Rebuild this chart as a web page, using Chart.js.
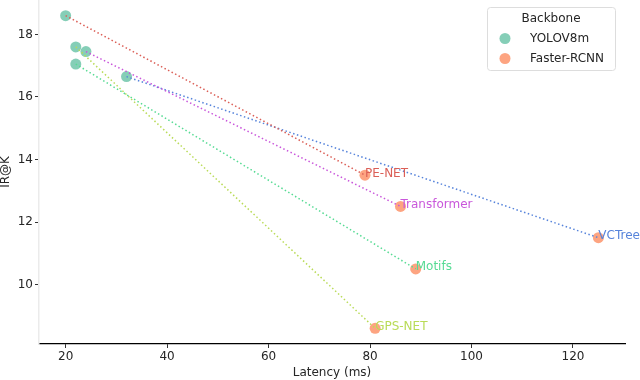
<!DOCTYPE html>
<html>
<head>
<meta charset="utf-8">
<script src="https://cdn.jsdelivr.net/npm/chart.js@4/dist/chart.umd.min.js"></script>
<style>
  html, body { margin: 0; padding: 0; background: #fff; }
  #wrap { width: 640px; height: 380px; }
</style>
</head>
<body>
<div id="wrap"><canvas id="chart" width="640" height="380"></canvas></div>
<script>
// Models compared, one line per model from the YOLOv8m run to the Faster-RCNN run
var models = ['PE-NET', 'Transformer', 'VCTree', 'Motifs', 'GPS-NET'];
var modelColors = ['#db5f57', '#c957db', '#5784db', '#57db94', '#b9db57'];

// YOLOv8m backbone
var yoloLatency = [20, 24, 32, 22, 22];
var yoloScore = [18.6, 17.45, 16.65, 17.05, 17.6];

// Faster-RCNN backbone
var rcnnLatency = [79, 86, 125, 89, 81];
var rcnnScore = [13.5, 12.5, 11.5, 10.5, 8.6];

var backbones = ['YOLOV8m', 'Faster-RCNN'];
var backboneColors = ['rgba(102,194,165,0.8)', 'rgba(252,141,98,0.8)'];

var xTicks = [20, 40, 60, 80, 100, 120];
var yTicks = [10, 12, 14, 16, 18];

var FONT = 'DejaVu Sans, sans-serif';
var TEXT = '#262626';

function toPoints(xs, ys) {
  return xs.map(function(x, i) { return { x: x, y: ys[i] }; });
}

var datasets = [];

// dotted connector lines (drawn on top of the markers)
models.forEach(function(name, i) {
  datasets.push({
    type: 'line',
    label: name,
    data: [{ x: yoloLatency[i], y: yoloScore[i] }, { x: rcnnLatency[i], y: rcnnScore[i] }],
    borderColor: modelColors[i],
    borderWidth: 1.5,
    borderDash: [1.5, 2.5],
    pointRadius: 0,
    fill: false,
    clip: false,
    order: 0
  });
});

datasets.push({
  type: 'scatter',
  label: backbones[0],
  data: toPoints(yoloLatency, yoloScore),
  backgroundColor: backboneColors[0],
  borderWidth: 0,
  pointRadius: 5.5,
  clip: false,
  order: 1
});
datasets.push({
  type: 'scatter',
  label: backbones[1],
  data: toPoints(rcnnLatency, rcnnScore),
  backgroundColor: backboneColors[1],
  borderWidth: 0,
  pointRadius: 5.5,
  clip: false,
  order: 1
});

/**
 * Model names written next to the Faster-RCNN points, plus the boxed legend.
 */
var annotate = {
  id: 'annotate',
  afterDatasetsDraw: function(chart) {
    var ctx = chart.ctx;
    var xs = chart.scales.x, ys = chart.scales.y;
    ctx.save();
    ctx.font = '12px ' + FONT;
    ctx.textAlign = 'left';
    ctx.textBaseline = 'alphabetic';
    models.forEach(function(name, i) {
      ctx.fillStyle = modelColors[i];
      ctx.fillText(name, xs.getPixelForValue(rcnnLatency[i]), ys.getPixelForValue(rcnnScore[i]) + 1.5);
    });
    ctx.restore();
  },
  afterDraw: function(chart) {
    var ctx = chart.ctx;
    var bx = 487, by = 7, bw = 128, bh = 63;
    ctx.save();
    ctx.fillStyle = 'rgba(255,255,255,0.8)';
    ctx.strokeStyle = '#dddddd';
    ctx.lineWidth = 1;
    ctx.beginPath();
    ctx.roundRect(bx + 0.5, by + 0.5, bw, bh, 3);
    ctx.fill();
    ctx.stroke();

    ctx.fillStyle = TEXT;
    ctx.font = '12px ' + FONT;
    ctx.textAlign = 'center';
    ctx.textBaseline = 'middle';
    ctx.fillText('Backbone', bx + bw / 2, 19);

    ctx.textAlign = 'left';
    backbones.forEach(function(name, i) {
      var cy = 38.5 + i * 20;
      ctx.fillStyle = backboneColors[i];
      ctx.beginPath();
      ctx.arc(505, cy, 5.5, 0, Math.PI * 2);
      ctx.fill();
      ctx.fillStyle = TEXT;
      ctx.fillText(name, 530, cy);
    });
    ctx.restore();
  }
};

new Chart(document.getElementById('chart'), {
  data: { datasets: datasets },
  options: {
    responsive: false,
    animation: false,
    layout: { autoPadding: false, padding: { left: 0, top: 0, right: 15, bottom: 0 } },
    plugins: {
      legend: { display: false },
      tooltip: { enabled: false }
    },
    scales: {
      x: {
        type: 'linear',
        min: 14.75,
        max: 130.25,
        afterBuildTicks: function(scale) {
          scale.ticks = xTicks.map(function(v) { return { value: v }; });
        },
        afterFit: function(scale) {
          scale.height = 36;
          scale.paddingLeft = 0;
          scale.paddingRight = 0;
        },
        border: { display: true, color: '#000000', width: 1.2 },
        grid: { drawOnChartArea: false, drawTicks: true, tickLength: 4, color: '#333333' },
        ticks: { font: { family: FONT, size: 12 }, color: TEXT, padding: 2, maxRotation: 0 },
        title: {
          display: true,
          text: 'Latency (ms)',
          font: { family: FONT, size: 12 },
          color: TEXT,
          padding: { top: 2, bottom: 0 }
        }
      },
      y: {
        type: 'linear',
        min: 8.1,
        max: 19.1,
        afterBuildTicks: function(scale) {
          scale.ticks = yTicks.map(function(v) { return { value: v }; });
        },
        afterFit: function(scale) {
          scale.width = 39;
          scale.paddingTop = 0;
          scale.paddingBottom = 0;
        },
        border: { display: true, color: '#ebebeb', width: 1.5 },
        grid: { drawOnChartArea: false, drawTicks: true, tickLength: 4, color: '#333333' },
        ticks: { font: { family: FONT, size: 12 }, color: TEXT, padding: 2 },
        title: {
          display: true,
          text: 'IR@K',
          font: { family: FONT, size: 12, lineHeight: 1 },
          color: TEXT,
          padding: { top: 0, bottom: 0 }
        }
      }
    }
  },
  plugins: [annotate]
});
</script>
</body>
</html>
